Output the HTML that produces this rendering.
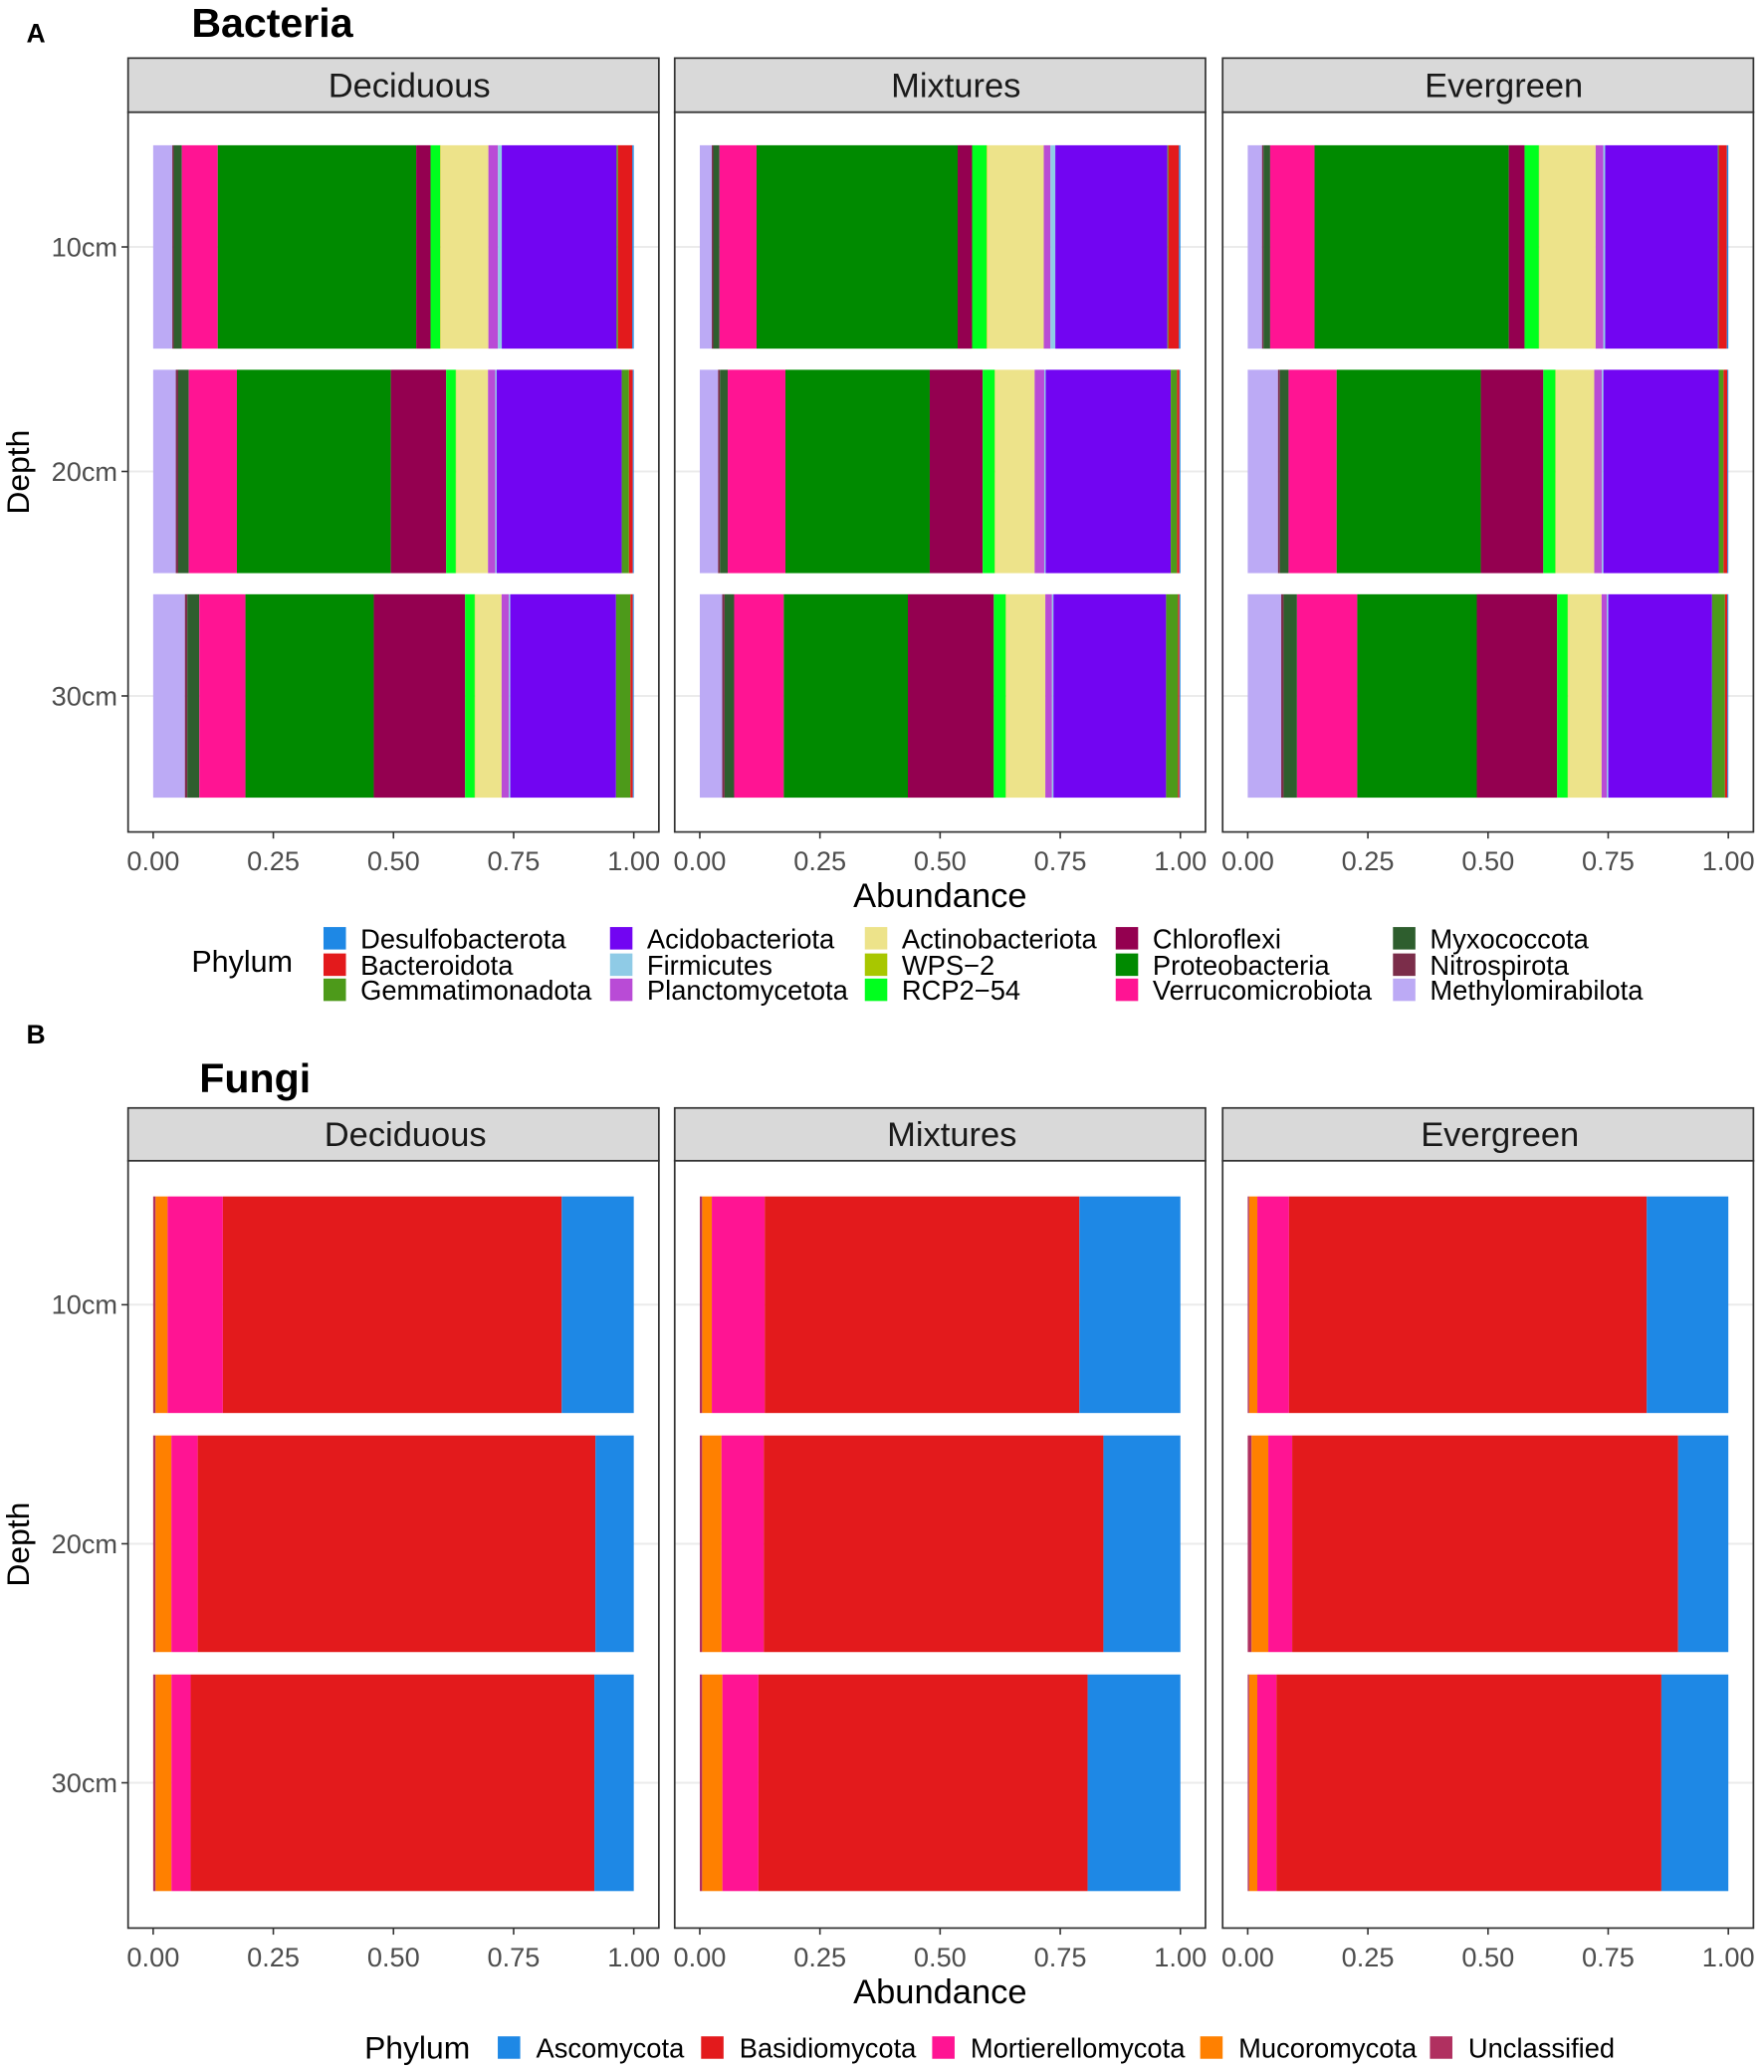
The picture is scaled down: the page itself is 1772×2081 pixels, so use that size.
<!DOCTYPE html>
<html><head><meta charset="utf-8"><style>
html,body{margin:0;padding:0;background:#fff}
svg{display:block;font-family:"Liberation Sans",sans-serif}
</style></head><body>
<svg id="chart" width="1772" height="2081" viewBox="0 0 1336 1569" xmlns="http://www.w3.org/2000/svg"></svg>
<script>
// ---- data ----
const depths = ["10cm","20cm","30cm"];
const habitats = ["Deciduous","Mixtures","Evergreen"];
const bacPhyla = ["Methylomirabilota","Nitrospirota","Myxococcota","Verrucomicrobiota","Proteobacteria","Chloroflexi","RCP2-54","WPS-2","Actinobacteriota","Planctomycetota","Firmicutes","Acidobacteriota","Gemmatimonadota","Bacteroidota","Desulfobacterota"];
const bacColors = ["#BCAAF5","#7B2D4A","#2E5E2E","#FF1493","#008A00","#940050","#00FF1E","#A8C700","#EDE38A","#B94BD6","#8FCBE6","#7205F2","#4D9A1A","#E31A1C","#1E88E5"];
const bacDeciduous = [
 [0.040,0.003,0.017,0.075,0.415,0.030,0.020,0.001,0.100,0.020,0.008,0.240,0.003,0.030,0.003],
 [0.047,0.005,0.022,0.100,0.320,0.115,0.020,0.001,0.066,0.015,0.003,0.260,0.015,0.008,0.002],
 [0.066,0.005,0.025,0.096,0.267,0.190,0.020,0.001,0.055,0.015,0.003,0.220,0.030,0.005,0.002]];
const bacMixtures = [
 [0.025,0.003,0.013,0.077,0.418,0.030,0.030,0.001,0.118,0.014,0.010,0.233,0.002,0.022,0.003],
 [0.038,0.004,0.016,0.120,0.300,0.110,0.025,0.001,0.082,0.020,0.003,0.260,0.013,0.005,0.002],
 [0.047,0.005,0.020,0.104,0.260,0.180,0.025,0.001,0.082,0.014,0.003,0.236,0.025,0.003,0.002]];
const bacEvergreen = [
 [0.030,0.003,0.014,0.093,0.407,0.033,0.030,0.001,0.118,0.016,0.004,0.236,0.002,0.017,0.003],
 [0.063,0.004,0.018,0.100,0.300,0.130,0.025,0.001,0.080,0.016,0.003,0.240,0.010,0.008,0.002],
 [0.070,0.005,0.028,0.126,0.250,0.168,0.022,0.001,0.070,0.011,0.003,0.217,0.027,0.005,0.002]];
const fungPhyla = ["Unclassified","Mucoromycota","Mortierellomycota","Basidiomycota","Ascomycota"];
const fungColors = ["#B03060","#FF8000","#FF1493","#E31A1C","#1E88E5"];
const fungDeciduous = [[0.005,0.025,0.115,0.705,0.150],[0.005,0.033,0.055,0.830,0.080],[0.005,0.033,0.040,0.840,0.082]];
const fungMixtures  = [[0.005,0.020,0.110,0.654,0.210],[0.005,0.040,0.088,0.706,0.160],[0.005,0.042,0.075,0.685,0.193]];
const fungEvergreen = [[0.003,0.017,0.066,0.745,0.170],[0.008,0.035,0.050,0.807,0.105],[0.003,0.017,0.040,0.805,0.140]];
const xTicks = [0,0.25,0.5,0.75,1];
const xTickLabels = ["0.00","0.25","0.50","0.75","1.00"];
const bacLegend = ["Desulfobacterota","Bacteroidota","Gemmatimonadota","Acidobacteriota","Firmicutes","Planctomycetota","Actinobacteriota","WPS-2","RCP2-54","Chloroflexi","Proteobacteria","Verrucomicrobiota","Myxococcota","Nitrospirota","Methylomirabilota"];
const fungLegend = ["Ascomycota","Basidiomycota","Mortierellomycota","Mucoromycota","Unclassified"];

const svg=document.getElementById('chart');
const NS="http://www.w3.org/2000/svg";
function mk(tag,attrs,parent){const e=document.createElementNS(NS,tag);for(const k in attrs)e.setAttribute(k,attrs[k]);(parent||svg).appendChild(e);return e;}
function txt(s,attrs,parent){const e=mk('text',attrs,parent);e.textContent=s;return e;}

const panelX=[97,511,926], panelW=402;
function drawSection(cfg){
  const g=mk('g',{});
  
  
  const t=txt(cfg.letter,{x:20,y:cfg.letterY,'font-size':20,'font-weight':'bold'},g);
  
  const ti=txt(cfg.title,{x:cfg.titleX,y:cfg.titleY,'font-size':31,'font-weight':'bold'},g);
  
  const yC=d=>cfg.center0+d*cfg.step;
  habitats.forEach((h,hi)=>{
    const px=panelX[hi];
    const x0=px+19, x1=px+383;
    const xs=v=>x0+v*(x1-x0);
    const strip=mk('rect',{x:px,y:cfg.stripTop,width:panelW,height:cfg.plotTop-cfg.stripTop,fill:'#D9D9D9',stroke:'#333','stroke-width':1.3},g);
    
    const st=txt(h,{x:px+panelW/2+cfg.stripShift,y:(cfg.stripTop+cfg.plotTop)/2+9,'font-size':26,'text-anchor':'middle',fill:'#1a1a1a'},g);
    
    mk('rect',{x:px,y:cfg.plotTop,width:panelW,height:cfg.plotBot-cfg.plotTop,fill:'#fff'},g);
    depths.forEach((d,di)=>{
      mk('line',{x1:px,x2:px+panelW,y1:yC(di),y2:yC(di),stroke:'#EBEBEB','stroke-width':1.5},g);
    });
    const data=cfg.data[hi];
    depths.forEach((d,di)=>{
      const row=data[di];const tot=row.reduce((a,b)=>a+b,0);
      let acc=0;
      row.forEach((v,pi)=>{
        const a=acc/tot,b=(acc+v)/tot;acc+=v;
        const r=mk('rect',{x:xs(a),y:yC(di)-cfg.half,width:Math.max(0,xs(b)-xs(a)),height:2*cfg.half,fill:cfg.colors[pi]},g);
        
        
      });
    });
    const fr=mk('rect',{x:px,y:cfg.plotTop,width:panelW,height:cfg.plotBot-cfg.plotTop,fill:'none',stroke:'#333','stroke-width':1.3},g);
    
    xTicks.forEach((v,i)=>{
      mk('line',{x1:xs(v),x2:xs(v),y1:cfg.plotBot,y2:cfg.plotBot+5,stroke:'#333','stroke-width':1.2},g);
      const tl=txt(xTickLabels[i],{x:xs(v),y:cfg.plotBot+29,'font-size':20.5,'text-anchor':'middle',fill:'#4d4d4d'},g);
      
    });
    if(hi===0){
      depths.forEach((d,di)=>{
        mk('line',{x1:px-5,x2:px,y1:yC(di),y2:yC(di),stroke:'#333','stroke-width':1.2},g);
        const yl=txt(d,{x:px-8,y:yC(di)+7,'font-size':20.5,'text-anchor':'end',fill:'#4d4d4d'},g);
        
      });
    }
  });
  const ym=(cfg.plotTop+cfg.plotBot)/2;
  const yt=txt('Depth',{x:22,y:ym,'font-size':24,'text-anchor':'middle',transform:`rotate(-90 22 ${ym})`},g);
  
  const xt=txt('Abundance',{x:712,y:cfg.plotBot+57,'font-size':26,'text-anchor':'middle'},g);
  
}
drawSection({name:'bacteria',letter:'A',letterY:32,title:'Bacteria',titleX:145,titleY:28,stripTop:44,plotTop:85,plotBot:630,stripShift:12,
  center0:187,step:170,half:77,data:[bacDeciduous,bacMixtures,bacEvergreen],phyla:bacPhyla,colors:bacColors});
drawSection({name:'fungi',letter:'B',letterY:790,title:'Fungi',titleX:151,titleY:827,stripTop:839,plotTop:879,plotBot:1460,stripShift:9,
  center0:988,step:181,half:82,data:[fungDeciduous,fungMixtures,fungEvergreen],phyla:fungPhyla,colors:fungColors});

const lgA=mk('g',{});

txt('Phylum',{x:145,y:736,'font-size':23},lgA);
const colX=[245,462,655,845,1055], rowY=[711,731,750];
bacLegend.forEach((p,i)=>{
  const c=Math.floor(i/3), r=i%3;
  const col=bacColors[bacPhyla.indexOf(p)];
  const k=mk('rect',{x:colX[c],y:rowY[r]-9,width:17,height:17,fill:col},lgA);
  
  const t=txt(p.replace('-','\u2212'),{x:colX[c]+28,y:rowY[r]+7,'font-size':20.6},lgA);
  
});
const lgB=mk('g',{});

txt('Phylum',{x:276,y:1559,'font-size':24},lgB);
const fX=[377,531,706,909,1083];
fungLegend.forEach((p,i)=>{
  const col=fungColors[fungPhyla.indexOf(p)];
  const k=mk('rect',{x:fX[i],y:1542,width:17,height:17,fill:col},lgB);
  
  const t=txt(p,{x:fX[i]+29,y:1558,'font-size':20.6},lgB);
  
});
</script>
</body></html>
